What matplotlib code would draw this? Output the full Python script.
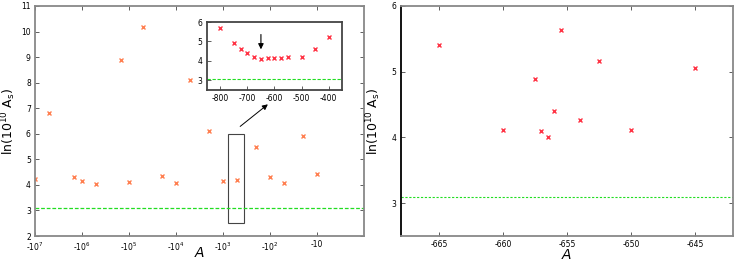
import numpy as np
import matplotlib
matplotlib.use('Agg')
import matplotlib.pyplot as plt
from matplotlib.patches import Rectangle

plt.rcParams['axes.unicode_minus'] = False

# full scan over A (left panel)
scan_A = [-1e7, -5e6, -1.5e6, -1e6, -5e5, -1.5e5, -1e5, -5e4, -2e4, -1e4,
          -5e3, -2e3, -1e3, -500, -200, -100, -50, -20, -10]
scan_lnAs = [4.22, 6.82, 4.32, 4.15, 4.05, 8.89, 4.10, 10.19, 4.35, 4.08,
             8.11, 6.12, 4.15, 4.19, 5.50, 4.32, 4.06, 5.91, 4.44]

# zoom between -800 and -400 (inset)
zoom_A = [-800, -750, -725, -700, -675, -650, -625, -600, -575, -550, -500, -450, -400]
zoom_lnAs = [5.71, 4.91, 4.62, 4.41, 4.20, 4.10, 4.15, 4.16, 4.16, 4.18, 4.22, 4.62, 5.21]

# fine scan around the minimum (right panel)
fine_A = [-665, -660, -657.5, -657, -656.5, -656, -655.5, -654, -652.5, -650, -645]
fine_lnAs = [5.41, 4.12, 4.89, 4.10, 4.01, 4.40, 5.64, 4.27, 5.17, 4.12, 5.06]

planck_lnAs = 3.09

left_ticks = [-1e7, -1e6, -1e5, -1e4, -1e3, -1e2, -10]
left_ticklabels = ['-10$^{7}$', '-10$^{6}$', '-10$^{5}$', '-10$^{4}$',
                   '-10$^{3}$', '-10$^{2}$', '-10']

orange = '#ff7f50'
red = '#ff3344'
green = '#22dd22'
gray = '#888888'


def fwd(x):
    x = np.asarray(x, dtype=float)
    return -np.log10(np.clip(-x, 1e-300, None))


def inv(u):
    return -10.0 ** (-np.asarray(u, dtype=float))


def style(ax, spine_col=gray):
    for s in ax.spines.values():
        s.set_color(spine_col)
        s.set_linewidth(1.3)
    ax.tick_params(direction='in', length=3, width=0.6, labelsize=5.5,
                   top=True, right=True, color='#444444', pad=3)


fig = plt.figure(figsize=(7.47, 2.62), dpi=100)

# left panel
ax1 = fig.add_axes([0.0469, 0.0992, 0.4404, 0.878])
ax1.set_xscale('function', functions=(fwd, inv))
ax1.set_xlim(-1e7, -1)
ax1.set_ylim(2, 11)
ax1.plot(scan_A, scan_lnAs, 'x', color=orange, ms=2.8, mew=1)
ax1.axhline(planck_lnAs, color=green, lw=0.9, ls=(0, (3, 1.5)))
ax1.set_xticks(left_ticks)
ax1.set_xticklabels(left_ticklabels)
ax1.set_xticks([], minor=True)
ax1.set_yticks(range(2, 12))
style(ax1)
ax1.set_xlabel('$A$', fontsize=10, labelpad=-5)
ax1.set_ylabel(r'ln(10$^{10}$ A$_\mathrm{s}$)', fontsize=9, labelpad=2)

ax1.add_patch(Rectangle((-800, 2.5), 450, 3.5, fill=False, ec='#444444', lw=0.8))
ax1.annotate('', xy=(-100, 7.22), xytext=(-480, 6.22),
             arrowprops=dict(arrowstyle='-|>', color='black', lw=0.7, mutation_scale=8))

# inset
axi = fig.add_axes([0.2767, 0.6565, 0.1815, 0.2595])
axi.plot(zoom_A, zoom_lnAs, 'x', color=red, ms=2.8, mew=1)
axi.axhline(planck_lnAs, color=green, lw=0.8, ls=(0, (3, 1.5)))
axi.set_xlim(-850, -350)
axi.set_ylim(2.5, 6)
axi.set_xticks([-800, -700, -600, -500, -400])
axi.set_yticks([3, 4, 5, 6])
style(axi, '#444444')
axi.tick_params(top=False, right=False)
axi.annotate('', xy=(-650, 4.45), xytext=(-650, 5.5),
             arrowprops=dict(arrowstyle='-|>', color='black', lw=0.8, mutation_scale=8))

# right panel
ax2 = fig.add_axes([0.5364, 0.0992, 0.4453, 0.878])
ax2.plot(fine_A, fine_lnAs, 'x', color=red, ms=2.8, mew=1)
ax2.axhline(planck_lnAs, color=green, lw=0.8, ls=(0, (2, 1.5)))
ax2.set_xlim(-668, -642)
ax2.set_ylim(2.5, 6)
ax2.set_xticks([-665, -660, -655, -650, -645])
ax2.set_yticks([3, 4, 5, 6])
style(ax2)
ax2.spines['left'].set_color('black')
ax2.set_xlabel('$A$', fontsize=10, labelpad=-1)
ax2.set_ylabel(r'ln(10$^{10}$ A$_\mathrm{s}$)', fontsize=9, labelpad=6)

fig.savefig('out.png', dpi=100)
